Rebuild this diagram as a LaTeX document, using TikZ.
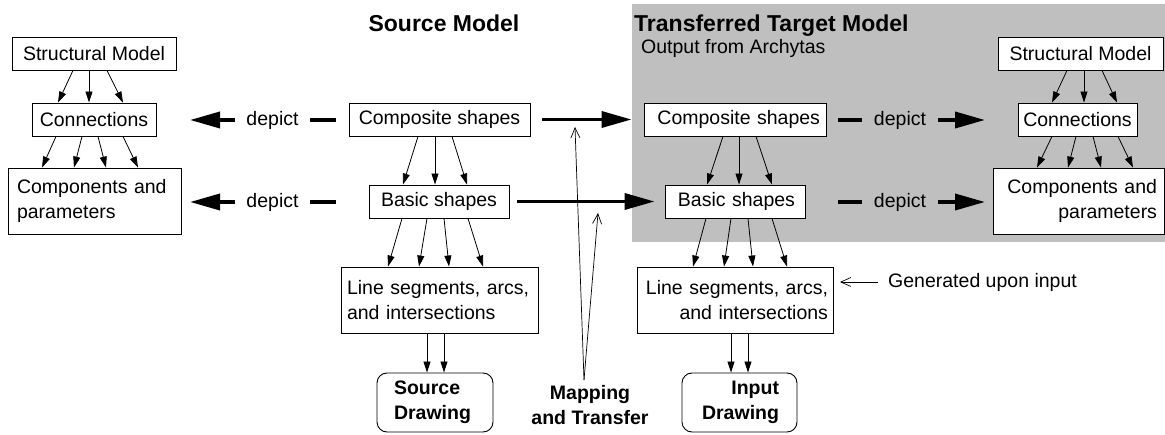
\documentclass[tikz,border=0pt]{standalone}
\usepackage{fontspec}
\setmainfont{Liberation Sans}
\usetikzlibrary{arrows.meta,calc}

\definecolor{panelgray}{RGB}{191,191,191}
\newcommand\bxfont{\fontsize{19.5}{24.5}\selectfont}
\newcommand\ttlfont{\fontsize{23}{27}\selectfont\bfseries}

\tikzset{
  box/.style={draw=black, line width=0.9pt, fill=white, inner xsep=0pt, inner ysep=0pt,
              minimum height=33pt, font=\bxfont},
  tallbox/.style={box, minimum height=66pt},
  drawbox/.style={box, rounded corners=10pt, minimum height=59pt, font=\bxfont\bfseries},
  fan/.style={line width=0.8pt, -{Triangle[length=11pt,width=7pt]}},
  heavy/.style={line width=3.6pt, line cap=butt},
  heavyarrow/.style={heavy, -{Triangle[length=30pt,width=16pt]}},
  pointer/.style={line width=0.7pt, -{Straight Barb[length=10pt,width=9pt]}},
  lbl/.style={font=\bxfont, inner xsep=11pt, inner ysep=0pt},
}

\begin{document}
\begin{tikzpicture}[x=1pt,y=-1pt]
\useasboundingbox (0,0) rectangle (1165,435);

% shaded panel of the transferred model
\fill[panelgray] (632,4) rectangle (1165,242);

% titles
\node[font=\ttlfont, anchor=base, inner sep=0pt] (srcTitle) at (444,31.5) {Source Model};
\node[font=\ttlfont, anchor=base west, inner sep=0pt] (tgtTitle) at (634,31.5) {Transferred Target Model};
\node[font=\bxfont, anchor=base west, inner sep=0pt] (tgtSub) at (641,54) {Output from Archytas};

% left column: structure depicted by the source
\node[box, minimum width=164pt] (smL) at (94,53.5) {Structural Model};
\node[box, minimum width=124pt] (connL) at (94,119.5) {Connections};
\node[tallbox, inner xsep=9pt, text width=155pt, align=left] (compL) at (94.5,201) {Components and\\parameters};

% source model
\node[box, minimum width=181pt] (compoS) at (439.5,119.5) {Composite shapes};
\node[box, minimum width=140pt] (basicS) at (439,201.5) {Basic shapes};
\node[tallbox, inner xsep=6pt, text width=185pt, align=left] (lineS) at (439.5,300) {Line segments, arcs,\\and intersections};
\node[drawbox, inner xsep=17pt, text width=82pt, align=left] (drawS) at (435,402.5) {Source\\Drawing};

% target model
\node[box, inner xsep=6pt, text width=170pt, align=right] (compoT) at (735,119.5) {Composite shapes};
\node[box, inner xsep=10pt, text width=120pt, align=right] (basicT) at (735,201.5) {Basic shapes};
\node[tallbox, inner xsep=5pt, text width=186pt, align=right] (lineT) at (735,300) {Line segments, arcs,\\and intersections};
\node[drawbox, inner xsep=18pt, text width=79pt, align=right] (drawT) at (739.5,402.5) {Input\\Drawing};

% right column: structure depicted by the target
\node[box, minimum width=165pt] (smR) at (1080.5,53.5) {Structural Model};
\node[box, minimum width=119pt] (connR) at (1077.5,119.5) {Connections};
\node[tallbox, inner xsep=7pt, text width=157pt, align=right] (compR) at (1078.5,201) {Components and\\parameters};

% fans of thin arrows between levels
\foreach \a/\b in {-21/-36, -5/-5, 13/29}
  \draw[fan] ($(smL.south)+(\a,0)$) -- ($(connL.north)+(\b,0)$);
\foreach \a/\b in {-38/-52.5, -12/-20.5, 4/11.5, 29/43.5}
  \draw[fan] ($(connL.south)+(\a,0)$) -- ($(compL.north)+(\b,0)$);
\foreach \a/\b in {-13.5/-25.5, 3.5/6.5, 21.5/39.5}
  \draw[fan] ($(smR.south)+(\a,0)$) -- ($(connR.north)+(\b,0)$);
\foreach \a/\b in {-25.5/-41.5, -1.5/-10.5, 15.5/22.5, 40.5/54.5}
  \draw[fan] ($(connR.south)+(\a,0)$) -- ($(compR.north)+(\b,0)$);
\foreach \a/\b in {-21.5/-36, -4.5/-4, 12.5/28}
  \draw[fan] ($(compoS.south)+(\a,0)$) -- ($(basicS.north)+(\b,0)$);
\foreach \a/\b in {-12/-28, 4/4, 21/37}
  \draw[fan] ($(compoT.south)+(\a,0)$) -- ($(basicT.north)+(\b,0)$);
\foreach \a/\b in {-37/-51.5, -12/-20.5, 5/9.5, 29/43.5}
  \draw[fan] ($(basicS.south)+(\a,0)$) -- ($(lineS.north)+(\b,0)$);
\foreach \a/\b in {-29/-42, -4/-11, 13/18, 37/52}
  \draw[fan] ($(basicT.south)+(\a,0)$) -- ($(lineT.north)+(\b,0)$);
\foreach \a/\b in {-12.5/-8, 4.5/9}
  \draw[fan] ($(lineS.south)+(\a,0)$) -- ($(drawS.north)+(\b,0)$);
\foreach \a/\b in {-4/-8.5, 13/8.5}
  \draw[fan] ($(lineT.south)+(\a,0)$) -- ($(drawT.north)+(\b,0)$);

% "depict" relations, source side
\coordinate (lA0) at (336,120);  \coordinate (lA1) at (190,120);
\coordinate (lB0) at (336,202);  \coordinate (lB1) at (190,202);
\node[lbl] (depLA) at (272.5,120) {depict};
\node[lbl] (depLB) at (272.5,202) {depict};
\draw[heavy] (lA0) -- (depLA);  \draw[heavyarrow] (depLA) -- (lA1);
\draw[heavy] (lB0) -- (depLB);  \draw[heavyarrow] (depLB) -- (lB1);

% "depict" relations, target side
\coordinate (rA0) at (838,120);  \coordinate (rA1) at (985,120);
\coordinate (rB0) at (838,202);  \coordinate (rB1) at (985,202);
\node[lbl, inner xsep=12pt] (depRA) at (900,120) {depict};
\node[lbl, inner xsep=12pt] (depRB) at (900,202) {depict};
\draw[heavy] (rA0) -- (depRA);  \draw[heavyarrow] (depRA) -- (rA1);
\draw[heavy] (rB0) -- (depRB);  \draw[heavyarrow] (depRB) -- (rB1);

% mapping from source to target
\draw[heavyarrow, shorten <=12pt, shorten >=12pt] (compoS) -- (compoT);
\draw[heavyarrow, shorten <=8pt, shorten >=10pt] (basicS) -- (basicT);

\node[font=\bxfont\bfseries, align=center, inner sep=0pt] (map) at (590,405) {Mapping\\and Transfer};
\coordinate (mapFoot) at (584,380);
\coordinate (mapTipA) at (575,127);
\coordinate (mapTipB) at (598,213);
\draw[pointer] (mapFoot) -- (mapTipA);
\draw[pointer] (mapFoot) -- (mapTipB);

% input note
\node[font=\bxfont, anchor=west, inner sep=0pt] (gen) at (888,282) {Generated upon input};
\coordinate (genTip) at (840,282);
\draw[pointer, shorten <=10pt] (gen.west) -- (genTip);
\end{tikzpicture}
\end{document}
